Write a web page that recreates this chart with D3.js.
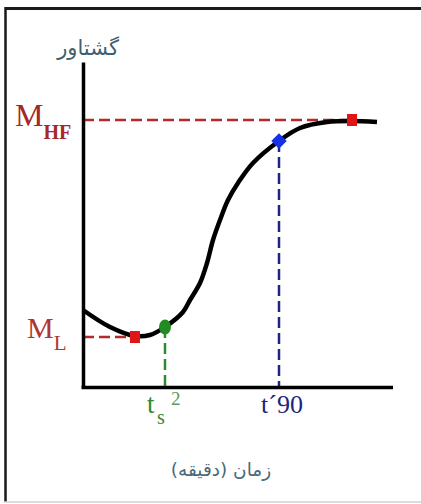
<!DOCTYPE html>
<html><head><meta charset="utf-8">
<script src="https://cdn.jsdelivr.net/npm/d3@7"></script>
<style>html,body{margin:0;padding:0;background:#fff;}svg{display:block;}</style>
</head><body>
<script>
// Data (time in arbitrary minutes, torque in arbitrary units)
const curveTime   = [0, 2.7, 5.2, 6.7, 8.2, 10.0, 10.7, 11.7, 12.4, 13.0, 13.7, 14.5, 15.5, 17.0, 19.6, 21.7, 24.4, 26.9, 29.4];
const curveTorque = [7.7, 6.0, 5.1, 5.2, 6.0, 7.5, 8.7, 10.4, 12.4, 14.7, 16.7, 18.7, 20.4, 22.4, 24.6, 25.9, 26.5, 26.6, 26.5];
const levelNames  = ["M_L", "M_HF"];
const levelValues = [5.0, 26.7];
const levelTimes  = [5.2, 26.9];
const timeNames   = ["ts2", "t90"];
const timeValues  = [8.2, 19.6];
const timeTorques = [6.0, 24.6];
const yTitle = "گشتاور";
const xTitle = "زمان (دقیقه)";

const W = 421, H = 504;
const svg = d3.select("body").append("svg").attr("width", W).attr("height", H);

// frame
svg.append("line").attr("x1",5).attr("x2",W).attr("y1",8.5).attr("y2",8.5).attr("stroke","#1a1a1a").attr("stroke-width",3);
svg.append("line").attr("x1",5.5).attr("x2",5.5).attr("y1",7).attr("y2",502).attr("stroke","#1a1a1a").attr("stroke-width",2.5);
svg.append("line").attr("x1",4).attr("x2",W).attr("y1",502).attr("y2",502).attr("stroke","#d0d0d0").attr("stroke-width",1.5);

const x = d3.scaleLinear().domain([0, 31]).range([83, 393]);
const y = d3.scaleLinear().domain([0, 32.5]).range([387, 62]);

const red = "#b32a2a", blue = "#1c2580", green = "#2f8a2f";

// dashed guides
const g = svg.append("g");
g.selectAll(".hl").data(levelValues).join("line")
  .attr("x1", x(0)).attr("x2", (d,i)=>x(levelTimes[i]))
  .attr("y1", d=>y(d)).attr("y2", d=>y(d))
  .attr("stroke", red).attr("stroke-width", 2.5).attr("stroke-dasharray","11,5");
const tCol = [green, blue];
g.selectAll(".vl").data(timeValues).join("line")
  .attr("x1", d=>x(d)).attr("x2", d=>x(d))
  .attr("y1", (d,i)=>y(timeTorques[i])).attr("y2", y(0))
  .attr("stroke", (d,i)=>tCol[i]).attr("stroke-width", 2.5).attr("stroke-dasharray","11,5");

// axes
const xa = svg.append("g").attr("transform",`translate(0,${y(0)})`)
  .call(d3.axisBottom(x).tickValues([]).tickSizeOuter(0));
const ya = svg.append("g").attr("transform",`translate(${x(0)},0)`)
  .call(d3.axisLeft(y).tickValues([]).tickSizeOuter(0));
svg.selectAll(".domain").attr("stroke","#000").attr("stroke-width",3.5);
xa.select(".domain").attr("d", `M${x(0)-1.5},0.5H${x(31)}`);

// curve
const pts = curveTime.map((t,i)=>[t, curveTorque[i]]);
svg.append("path").datum(pts)
  .attr("d", d3.line().x(d=>x(d[0])).y(d=>y(d[1])).curve(d3.curveCatmullRom.alpha(0.5)))
  .attr("fill","none").attr("stroke","#000").attr("stroke-width",4.5).attr("stroke-linecap","butt");

// markers
svg.selectAll(".sq").data(levelValues).join("rect")
  .attr("x",(d,i)=>x(levelTimes[i])-5).attr("y",d=>y(d)-6)
  .attr("width",10).attr("height",12).attr("fill","#e01515");
svg.append("ellipse").attr("cx", x(timeValues[0])).attr("cy", y(timeTorques[0]))
  .attr("rx",6).attr("ry",7.5).attr("fill","#228b22");
svg.append("path").attr("d", d3.symbol().type(d3.symbolSquare).size(120)())
  .attr("transform",`translate(${x(timeValues[1])},${y(timeTorques[1])}) rotate(45)`)
  .attr("fill","#1530e8");

// labels
const serif = "'Liberation Serif','DejaVu Serif',serif";
// M_HF
const t1 = svg.append("text").attr("x",15).attr("y",126).attr("font-family",serif).attr("fill","#a52828");
t1.append("tspan").attr("font-size",32).text("M");
t1.append("tspan").attr("font-size",20).attr("font-weight","bold").attr("dy",13).text("HF");
// M_L
const t2 = svg.append("text").attr("x",27).attr("y",338).attr("font-family",serif).attr("fill","#b03535");
t2.append("tspan").attr("font-size",30).text("M");
t2.append("tspan").attr("font-size",21).attr("dy",12).text("L");
// ts2
const t3 = svg.append("text").attr("y",413).attr("font-family",serif).attr("fill",green);
t3.append("tspan").attr("x",147).attr("font-size",27).text("t");
t3.append("tspan").attr("x",157).attr("font-size",20).attr("dy",11).text("s");
t3.append("tspan").attr("x",171).attr("font-size",19).attr("dy",-19).attr("fill","#5a9a5a").text("2");
// t'90
svg.append("text").attr("x",282).attr("y",413).attr("text-anchor","middle")
  .attr("font-family",serif).attr("font-size",26).attr("fill",blue).text("t\u00B490");
// Persian titles
svg.append("text").attr("x",88).attr("y",55).attr("text-anchor","middle")
  .attr("font-family","'DejaVu Sans',sans-serif").attr("font-size",21).attr("fill","#3f5f6f")
  .text(yTitle);
svg.append("text").attr("x",221).attr("y",476).attr("text-anchor","middle").attr("direction","rtl")
  .attr("font-family","'DejaVu Sans',sans-serif").attr("font-size",18.5).attr("fill","#4a6a7a")
  .text(xTitle);
</script>
</body></html>
